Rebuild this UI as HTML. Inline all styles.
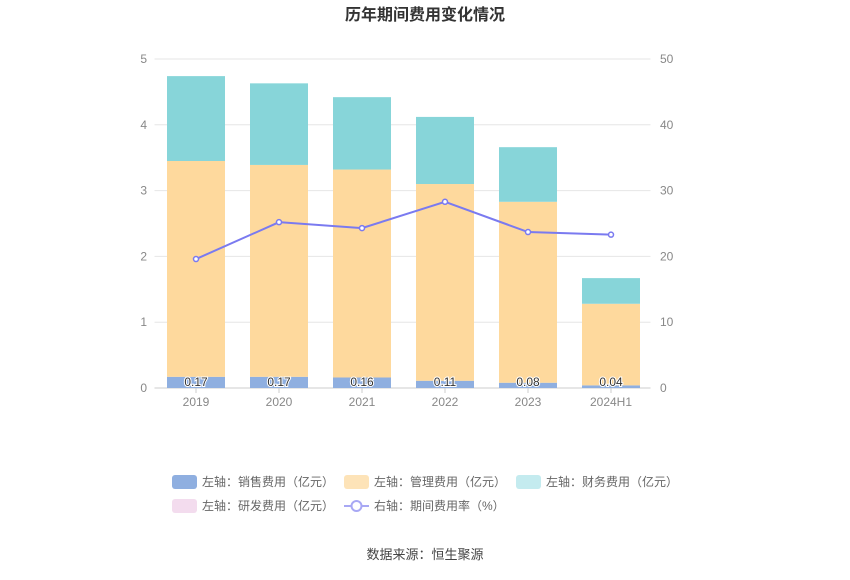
<!DOCTYPE html>
<html><head><meta charset="utf-8"><style>
body{margin:0;background:#fff;font-family:"Liberation Sans","Noto Sans CJK SC",sans-serif;}
svg text{font-family:"Liberation Sans","Noto Sans CJK SC",sans-serif;}
</style></head><body>
<svg id="c" width="850" height="575" xmlns="http://www.w3.org/2000/svg">
<text x="425" y="20" text-anchor="middle" font-size="16" font-weight="bold" fill="#333">历年期间费用变化情况</text>
<g id="grid"></g><g id="bars"></g><g id="line"></g><g id="axes"></g>
<g id="legend" font-size="12" fill="#666">
<g><rect x="172" y="475" width="25" height="14" rx="3" fill="#8fafe0"/><text x="202" y="486" fill="#666">左轴：销售费用（亿元）</text></g>
<g><rect x="344" y="475" width="25" height="14" rx="3" fill="#fde3b8"/><text x="374" y="486" fill="#666">左轴：管理费用（亿元）</text></g>
<g><rect x="516" y="475" width="25" height="14" rx="3" fill="#c4ebef"/><text x="546" y="486" fill="#666">左轴：财务费用（亿元）</text></g>
<g><rect x="172" y="499" width="25" height="14" rx="3" fill="#f3dcee"/><text x="202" y="510" fill="#666">左轴：研发费用（亿元）</text></g>
<g><line x1="344" y1="506" x2="369" y2="506" stroke="#a8a8f4" stroke-width="2"/><circle cx="356.5" cy="506" r="5" fill="#fff" stroke="#a8a8f4" stroke-width="2"/><text x="374" y="510" fill="#666">右轴：期间费用率（%）</text></g>
</g>
<text x="425" y="559" text-anchor="middle" font-size="13" fill="#444">数据来源：恒生聚源</text>
</svg>
<script>
const categories=["2019","2020","2021","2022","2023","2024H1"];
const sales=[0.17,0.17,0.16,0.11,0.08,0.04];
const management=[3.28,3.22,3.16,2.99,2.75,1.24];
const finance=[1.29,1.24,1.10,1.02,0.83,0.39];
const rate=[19.6,25.2,24.3,28.3,23.7,23.3];
const leftTicks=[0,1,2,3,4,5];
const rightTicks=[0,10,20,30,40,50];
const NS="http://www.w3.org/2000/svg";
const x0=154.5,x1=652.5,yTop=59,yBot=388,step=(x1-x0)/categories.length,bw=58;
const yL=v=>yBot-(v/5)*(yBot-yTop);
const yR=v=>yBot-(v/50)*(yBot-yTop);
const xc=i=>x0+step*(i+0.5);
function mk(t,a,p){const e=document.createElementNS(NS,t);for(const k in a)e.setAttribute(k,a[k]);document.getElementById(p).appendChild(e);return e;}
leftTicks.forEach((t,i)=>{
 const g=mk("line",{x1:x0,x2:x1-2,y1:yL(t),y2:yL(t),stroke:i==0?"#ccc":"#e6e6e6"},"grid");
 
 
 const tl=mk("text",{x:147,y:yL(t)+4,"text-anchor":"end","font-size":12,fill:"#888"},"axes");tl.textContent=t;
 
 
});
rightTicks.forEach(t=>{
 const tr=mk("text",{x:660,y:yR(t)+4,"font-size":12,fill:"#888"},"axes");tr.textContent=t;
 
 
});
categories.forEach((c,i)=>{
 const tx=mk("text",{x:xc(i),y:406,"text-anchor":"middle","font-size":12,fill:"#888"},"axes");tx.textContent=c;
 
 
 const tk=mk("line",{x1:xc(i),x2:xc(i),y1:yBot,y2:yBot+5,stroke:"#ccc"},"axes");
 
 
 let base=0;
 [[sales,"#8fafe0","bar-sales"],[management,"#fed99d","bar-management"],[finance,"#87d5d9","bar-finance"]].forEach(([arr,col,nm])=>{
  const v=arr[i];
  const r=mk("rect",{x:xc(i)-bw/2,y:yL(base+v),width:bw,height:yL(base)-yL(base+v),fill:col},"bars");
  
  
  base+=v;
 });
 const lb=mk("text",{x:xc(i),y:yBot-2,"text-anchor":"middle","font-size":12,fill:"#333",stroke:"#fff","stroke-width":2,"paint-order":"stroke"},"bars");
 lb.textContent=sales[i].toFixed(2);
 
 
});
const pl=mk("polyline",{points:rate.map((v,i)=>xc(i)+","+yR(v)).join(" "),fill:"none",stroke:"#7a7af0","stroke-width":2},"line");


rate.forEach((v,i)=>{
 const p=mk("circle",{cx:xc(i),cy:yR(v),r:2.5,fill:"#fff",stroke:"#7a7af0","stroke-width":1.5},"line");
 
 
});
</script>
</body></html>
